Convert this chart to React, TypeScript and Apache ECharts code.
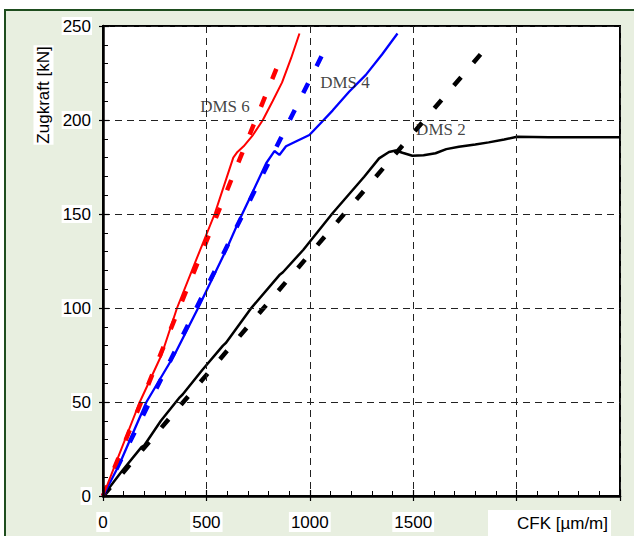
import React, { useEffect, useRef } from "react";
import * as echarts from "echarts";

// strain (µm/m) vs. tensile force (kN)
const dms6Measured: [number, number][] = [
  [0, 0], [60, 17], [178, 50], [283, 75], [358, 100], [452, 126], [540, 150],
  [600, 170], [630, 180], [650, 183], [680, 186], [725, 192], [773, 200],
  [820, 210], [866, 220], [910, 233], [950, 246],
];
const dms6Theory: [number, number][] = [[0, 0], [867, 235]];

const dms4Measured: [number, number][] = [
  [0, 0], [80, 17], [210, 50], [345, 75], [460, 100], [596, 131], [660, 147],
  [725, 162], [789, 177], [829, 183.5], [853, 181.4], [885, 186], [940, 189],
  [998, 192], [1050, 198], [1110, 205], [1190, 215], [1271, 224], [1350, 235],
  [1424, 246],
];
const dms4Theory: [number, number][] = [[0, 0], [1075, 238]];

const dms2Measured: [number, number][] = [
  [0, 0], [90, 13], [186, 26], [200, 27], [280, 40], [371, 52.5], [385, 54],
  [480, 67], [580, 80], [595, 81.5], [717, 100], [853, 117.5], [870, 119],
  [969, 131], [1110, 150.4], [1263, 169.8], [1335, 179.6], [1383, 183],
  [1415, 183.8], [1448, 182.6], [1496, 181], [1550, 181.3], [1608, 182.3],
  [1660, 184.5], [1721, 185.8], [1800, 187], [1865, 188.1], [1940, 189.6],
  [2002, 191.1], [2155, 190.8], [2315, 190.8], [2500, 190.8],
];
const dms2Theory: [number, number][] = [[0, 0], [1865, 240]];

const curveLabels = [
  { name: "DMS 6", value: [590, 207] },
  { name: "DMS 4", value: [1170, 220] },
  { name: "DMS 2", value: [1634, 195] },
];

const xLabelValues = [0, 500, 1000, 1500];
const xName = "CFK [µm/m]";
const yName = "Zugkraft [kN]";

const SANS = "'Liberation Sans', Arial, sans-serif";
const SERIF = "'Liberation Serif', 'Times New Roman', serif";

export default function App() {
  const ref = useRef<HTMLDivElement>(null);

  useEffect(() => {
    if (!ref.current) return;
    const chart = echarts.init(ref.current, undefined, { renderer: "svg" });

    const dash = (color: string, data: [number, number][], z = 2) => ({
      type: "line",
      data,
      symbol: "none",
      silent: true,
      z,
      lineStyle: { color, width: 4.5, type: [11, 19], cap: "butt" },
    });
    const solid = (color: string, data: [number, number][], width: number) => ({
      type: "line",
      data,
      symbol: "none",
      silent: true,
      z: 3,
      lineStyle: { color, width },
    });

    const baseX = { type: "value", min: 0, max: 2500, interval: 500 };
    const baseY = { type: "value", min: 0, max: 250, interval: 50 };
    const plain = (v: number) => String(v);

    chart.setOption({
      animation: false,
      backgroundColor: "#ffffff",
      grid: {
        left: 103,
        right: 14,
        top: 26,
        bottom: 40,
        show: true,
        backgroundColor: "#ffffff",
        borderColor: "#000",
        borderWidth: 2,
      },
      graphic: [
        {
          type: "rect",
          z: -100,
          shape: { x: 5, y: 10, width: 660, height: 560 },
          style: { fill: "#e8efe0", stroke: "#1e4d1e", lineWidth: 2 },
          silent: true,
        },
        {
          type: "rect",
          z: 100,
          shape: { x: 488, y: 510, width: 123, height: 28 },
          style: { fill: "#ffffff" },
          silent: true,
        },
        {
          type: "text",
          z: 101,
          x: 608,
          y: 523,
          style: {
            text: xName,
            font: `17px ${SANS}`,
            fill: "#000",
            textAlign: "right",
            textVerticalAlign: "middle",
          },
          silent: true,
        },
        {
          type: "text",
          z: 101,
          x: 43.5,
          y: 95,
          rotation: Math.PI / 2,
          style: {
            text: yName,
            font: `17px ${SANS}`,
            fill: "#000",
            textAlign: "center",
            textVerticalAlign: "middle",
            backgroundColor: "#ffffff",
            padding: [2, 1, 1, 1],
          },
          silent: true,
        },
      ],
      xAxis: [
        {
          ...baseX,
          position: "bottom",
          z: 4,
          axisLine: { show: true, lineStyle: { color: "#000", width: 2.5 } },
          axisTick: { show: true, inside: true, length: 6, lineStyle: { color: "#000", width: 1.2 } },
          minorTick: { show: true, splitNumber: 5, length: 5, lineStyle: { color: "#000", width: 1 } },
          splitLine: { show: true, lineStyle: { color: "#222", width: 1, type: [7, 5] } },
          axisLabel: {
            customValues: xLabelValues,
            formatter: plain,
            margin: 16,
            color: "#000",
            fontSize: 17,
            fontFamily: SANS,
            backgroundColor: "#ffffff",
            padding: [2, 2, 1, 2],
          },
        },
        {
          ...baseX,
          position: "bottom",
          z: 4,
          axisLine: { show: false },
          axisTick: { show: true, inside: false, length: 5, lineStyle: { color: "#000", width: 1.2 } },
          splitLine: { show: false },
          axisLabel: { show: false },
        },
      ],
      yAxis: [
        {
          ...baseY,
          position: "left",
          z: 4,
          axisLine: { show: true, lineStyle: { color: "#000", width: 2.5 } },
          axisTick: { show: true, inside: true, length: 6, lineStyle: { color: "#000", width: 1.2 } },
          minorTick: { show: true, splitNumber: 5, length: 5, lineStyle: { color: "#000", width: 1 } },
          splitLine: { show: true, lineStyle: { color: "#222", width: 1, type: [7, 5] } },
          axisLabel: {
            formatter: plain,
            margin: 11,
            color: "#000",
            fontSize: 17,
            fontFamily: SANS,
            backgroundColor: "#ffffff",
            padding: [1, 1, 0, 1],
          },
        },
        {
          ...baseY,
          position: "left",
          z: 4,
          axisLine: { show: false },
          axisTick: { show: true, inside: false, length: 4, lineStyle: { color: "#000", width: 1.2 } },
          splitLine: { show: false },
          axisLabel: { show: false },
        },
      ],
      series: [
        dash("#000000", dms2Theory),
        dash("#0000ff", dms4Theory),
        dash("#ff0000", dms6Theory),
        solid("#000000", dms2Measured, 2.5),
        solid("#0000ff", dms4Measured, 2.3),
        solid("#ff0000", dms6Measured, 2),
        {
          type: "scatter",
          data: curveLabels,
          symbolSize: 0,
          silent: true,
          z: 5,
          label: {
            show: true,
            position: "inside",
            formatter: (p: any) => p.name,
            color: "#111111",
            fontSize: 17,
            fontFamily: SERIF,
          },
        },
      ],
    });

    return () => chart.dispose();
  }, []);

  return (
    <div
      ref={ref}
      style={{ position: "fixed", left: 0, top: 0, width: 634, height: 536 }}
    />
  );
}
